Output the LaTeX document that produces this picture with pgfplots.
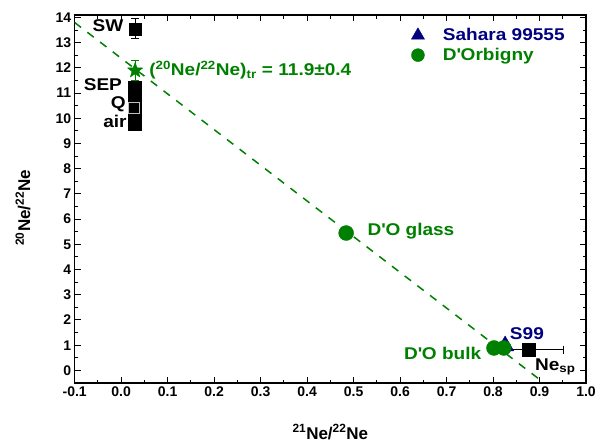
\documentclass[border=0pt]{standalone}
\usepackage{fontspec}
\setmainfont{Liberation Sans}
\newfontfamily\widefont{Liberation Sans}[FakeStretch=1.12]
\usepackage{pgfplots}
\pgfplotsset{compat=1.18}
\definecolor{dgreen}{RGB}{0,128,0}
\definecolor{dnavy}{RGB}{0,0,128}
\newcommand\lab{\widefont\bfseries\fontsize{17}{20}\selectfont}
\tikzset{lab/.style={font=\lab, inner sep=0pt}}
\pgfdeclareplotmark{fivestar}{%
 \pgfmathsetlengthmacro{\rin}{0.42*\pgfplotmarksize}%
 \pgfpathmoveto{\pgfpointpolar{90}{\pgfplotmarksize}}%
 \pgfpathlineto{\pgfpointpolar{126}{\rin}}%
 \pgfpathlineto{\pgfpointpolar{162}{\pgfplotmarksize}}%
 \pgfpathlineto{\pgfpointpolar{198}{\rin}}%
 \pgfpathlineto{\pgfpointpolar{234}{\pgfplotmarksize}}%
 \pgfpathlineto{\pgfpointpolar{270}{\rin}}%
 \pgfpathlineto{\pgfpointpolar{306}{\pgfplotmarksize}}%
 \pgfpathlineto{\pgfpointpolar{342}{\rin}}%
 \pgfpathlineto{\pgfpointpolar{18}{\pgfplotmarksize}}%
 \pgfpathlineto{\pgfpointpolar{54}{\rin}}%
 \pgfpathclose\pgfusepathqfillstroke}
\begin{document}
\begin{tikzpicture}
\path[use as bounding box] (-74.7pt,-62pt) rectangle (528.3pt,383pt);
\begin{axis}[
  scale only axis, width=511.3pt, height=368pt,
  xmin=-0.1, xmax=1.0, ymin=-0.5, ymax=14.1,
  xtick={-0.1,0,0.1,0.2,0.3,0.4,0.5,0.6,0.7,0.8,0.9,1.0},
  ytick={0,1,2,3,4,5,6,7,8,9,10,11,12,13,14},
  minor x tick num=1, minor y tick num=1,
  tick align=inside,
  major tick length=6pt, minor tick length=3.5pt,
  axis line style={line width=1.3pt},
  every tick/.style={black, line width=1pt},
  tick label style={font=\bfseries\fontsize{14}{14}\selectfont},
  /pgf/number format/assume math mode=true,
  xticklabel style={/pgf/number format/.cd, fixed, fixed zerofill, precision=1},
  xlabel={\textsuperscript{21}Ne/\textsuperscript{22}Ne},
  ylabel={\textsuperscript{20}Ne/\textsuperscript{22}Ne},
  label style={font=\bfseries\fontsize{17}{17}\selectfont},
  xlabel style={at={(axis description cs:0.5,-0.133)}, anchor=center},
  ylabel style={at={(axis description cs:-0.101,0.476)}, anchor=center},
  legend style={draw=none, fill=none, at={(axis description cs:0.648,0.975)}, anchor=north west, font=\lab, row sep=2pt},
  legend cell align=left,
  legend image code/.code={\draw[#1] plot coordinates {(0.3cm,0cm)}; \path (0cm,0cm) (1.1cm,0cm);},
]
\addplot[dgreen, line width=1.5pt, dash pattern=on 8pt off 8pt, forget plot] coordinates {(-0.1,13.8) (0.91,-0.5)};
\addplot[only marks, mark=triangle*, mark size=10pt, dnavy, legend image post style={mark size=7.5pt}] coordinates {(0.826,0.97)};
\addlegendentry{\textcolor{dnavy}{Sahara 99555}}
\addplot[only marks, mark=*, mark size=7.5pt, dgreen, legend image post style={mark size=6.5pt}] coordinates {(0.484,5.45) (0.802,0.89) (0.823,0.89)};
\addlegendentry{\textcolor{dgreen}{D\textquotesingle Orbigny}}
\addplot[only marks, mark=square*, mark size=6.5pt, black, forget plot] coordinates {(0.03,11.2) (0.03,10.75) (0.03,10.25) (0.03,9.8)};
\addplot[only marks, mark=square, mark size=5.5pt, gray!50, line width=0.8pt, forget plot] coordinates {(0.027,10.4)};
\addplot[only marks, mark=square*, mark size=6pt, black, forget plot,
  error bars/.cd, y dir=both, y explicit, error mark=|, error bar style={line width=1pt, black}, error mark options={black, mark size=4pt, line width=1pt}]
  coordinates {(0.03,13.55) +- (0,0.4)};
\addplot[only marks, mark=fivestar, mark size=8pt, dgreen, forget plot,
  error bars/.cd, y dir=both, y explicit, error mark=|, error bar style={line width=1pt, dgreen}, error mark options={dgreen, mark size=4pt, line width=1pt}]
  coordinates {(0.03,11.9) +- (0,0.4)};
\addplot[only marks, mark=square*, mark size=6.5pt, black, forget plot,
  error bars/.cd, x dir=both, x explicit, error mark=|, error bar style={line width=1pt, black}, error mark options={black, mark size=4pt, line width=1pt}]
  coordinates {(0.876,0.82) +- (0.076,0)};
\node[lab, anchor=mid east] at (axis cs:0.005,13.55) {SW};
\node[lab, anchor=mid east] at (axis cs:0.002,11.2) {SEP};
\node[lab, anchor=mid east] at (axis cs:0.01,10.48) {Q};
\node[lab, anchor=mid east] at (axis cs:0.012,9.75) {air};
\node[lab, anchor=mid west, text=dgreen] at (axis cs:0.06,11.8) {(\textsuperscript{20}Ne/\textsuperscript{22}Ne)\textsubscript{tr} = 11.9±0.4};
\node[lab, anchor=mid west, text=dgreen] at (axis cs:0.53,5.45) {D\textquotesingle O glass};
\node[lab, anchor=mid west, text=dnavy] at (axis cs:0.836,1.35) {S99};
\node[lab, anchor=mid east, text=dgreen] at (axis cs:0.775,0.55) {D\textquotesingle O bulk};
\node[lab, anchor=mid west] at (axis cs:0.89,0.12) {Ne\textsubscript{sp}};
\end{axis}
\end{tikzpicture}
\end{document}
